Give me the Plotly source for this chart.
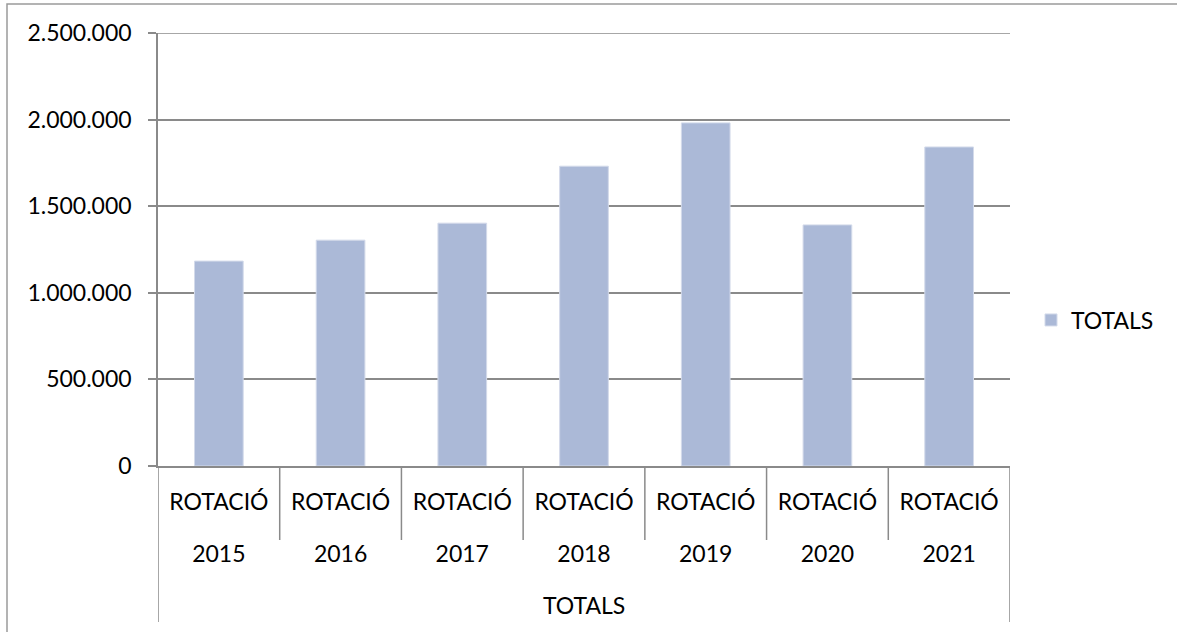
import plotly.graph_objects as go

# ---- data ----
categories = ["2015", "2016", "2017", "2018", "2019", "2020", "2021"]
category_prefix = "ROTACIÓ"
group_label = "TOTALS"
series_name = "TOTALS"
values = [1183000, 1304000, 1402000, 1731000, 1981000, 1392000, 1842000]
y_tickvals = [0, 500000, 1000000, 1500000, 2000000, 2500000]

# ---- layout constants ----
W, H = 1177, 632
L, R, T, B = 158, 1177 - 1010, 33, 632 - 466
pw, ph = W - L - R, H - T - B

GRID = "#8a8a8a"
BAR = "#ABB9D7"
FONT = "Lato"
FS = 23


def px_x(px):
    return (px - L) / pw


def px_y(py):
    return (T + ph - py) / ph


fig = go.Figure(
    go.Bar(
        x=categories,
        y=values,
        name=series_name,
        width=0.4,
        marker=dict(color=BAR, line=dict(color="#D3DAEA", width=1)),
    )
)

ticktext = [
    f"<span style='font-size:{FS}px'>{category_prefix}</span><br><br>"
    f"<span style='font-size:{FS}px'>{c}</span>"
    for c in categories
]

ymax = max(y_tickvals)

shapes = []
n = len(categories)
for i in range(n + 1):
    outer = i in (0, n)
    shapes.append(dict(
        type="line", xref="x", yref="paper",
        x0=i - 0.5, x1=i - 0.5, y0=0,
        y1=px_y(622) if outer else px_y(540),
        line=dict(color=GRID, width=1.5), layer="above",
    ))
# top gridline (plotly omits the gridline sitting on the range edge)
shapes.append(dict(
    type="line", xref="paper", yref="y", x0=0, x1=1, y0=ymax, y1=ymax,
    line=dict(color=GRID, width=1.5), layer="below",
))
# chart-area border
shapes.append(dict(
    type="rect", xref="paper", yref="paper",
    x0=px_x(7), x1=px_x(W + 10), y0=px_y(4), y1=px_y(H + 10),
    line=dict(color="#9a9a9a", width=1.5), layer="below",
))

fig.update_layout(
    width=W, height=H,
    margin=dict(l=L, r=R, t=T, b=B, autoexpand=False),
    paper_bgcolor="white", plot_bgcolor="white",
    font=dict(family=FONT, size=FS, color="black"),
    separators=",.",
    bargap=0.6,
    showlegend=True,
    legend=dict(
        x=px_x(1031), xanchor="left", y=px_y(320), yanchor="middle",
        font=dict(size=FS), bgcolor="rgba(0,0,0,0)",
    ),
    shapes=shapes,
    annotations=[dict(
        text=group_label, xref="paper", yref="paper",
        x=0.5, y=px_y(605), xanchor="center", yanchor="middle",
        showarrow=False, font=dict(size=FS),
    )],
    xaxis=dict(
        type="category",
        tickmode="array", tickvals=categories, ticktext=ticktext,
        tickfont=dict(size=20),
        ticks="", showline=True, linecolor=GRID, linewidth=1.5,
        showgrid=False, ticklabelstandoff=18,
        range=[-0.5, n - 0.5],
    ),
    yaxis=dict(
        range=[0, ymax], tickvals=y_tickvals, tickformat=",d",
        ticks="outside", ticklen=8, tickcolor=GRID, tickwidth=1.5,
        showline=True, linecolor=GRID, linewidth=1.5,
        showgrid=True, gridcolor=GRID, gridwidth=1.5,
        zeroline=False, ticklabelstandoff=12,
        tickfont=dict(size=FS),
    ),
)

fig.write_html(
    "out.html",
    config={"displayModeBar": False},
    post_script="document.body.style.margin='0';document.body.style.overflow='hidden';",
)
